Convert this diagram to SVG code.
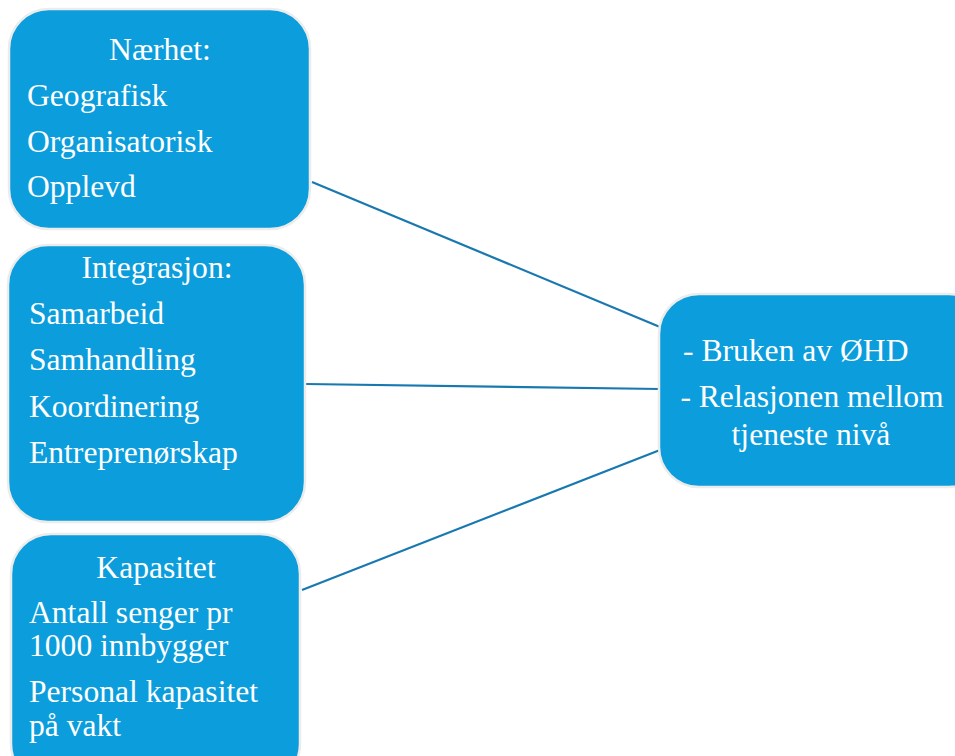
<svg xmlns="http://www.w3.org/2000/svg" width="955" height="756" viewBox="0 0 955 756">
<defs>
<style>
.box{fill:#0b9ddc;stroke:#ececec;stroke-width:2.5}
.c{text-anchor:middle}
.ln{stroke:#1878b0;stroke-width:2.2;fill:none}
</style>
</defs>
<rect width="955" height="756" fill="#ffffff"/>
<g id="connectors">
<line class="ln" x1="312" y1="182" x2="660" y2="327"/>
<line class="ln" x1="306" y1="384" x2="660" y2="389"/>
<line class="ln" x1="302" y1="590" x2="660" y2="450"/>
</g>
<g font-family="Liberation Serif, DejaVu Serif, serif" font-size="31.6" fill="#ffffff">
<g id="node-naerhet">
<rect class="box" x="9" y="9" width="301" height="220" rx="40"/>
<text class="c" x="160" y="60">Nærhet:</text>
<text x="27" y="106">Geografisk</text>
<text x="27" y="152">Organisatorisk</text>
<text x="27" y="197">Opplevd</text>
</g>
<g id="node-integrasjon">
<rect class="box" x="8" y="245" width="297" height="277" rx="40"/>
<text class="c" x="157" y="278">Integrasjon:</text>
<text x="29" y="324">Samarbeid</text>
<text x="29" y="370">Samhandling</text>
<text x="29" y="417">Koordinering</text>
<text x="29" y="463">Entreprenørskap</text>
</g>
<g id="node-kapasitet">
<rect class="box" x="11" y="534" width="289" height="250" rx="40"/>
<text class="c" x="156" y="578">Kapasitet</text>
<text x="29" y="623">Antall senger pr</text>
<text x="29" y="656">1000 innbygger</text>
<text x="29" y="702">Personal kapasitet</text>
<text x="29" y="736">på vakt</text>
</g>
<g id="node-bruken">
<rect class="box" x="659" y="294" width="330" height="193" rx="40"/>
<text x="683" y="361">- Bruken av ØHD</text>
<text class="c" x="812" y="407">- Relasjonen mellom</text>
<text class="c" x="811" y="445">tjeneste nivå</text>
</g>
</g>
</svg>
